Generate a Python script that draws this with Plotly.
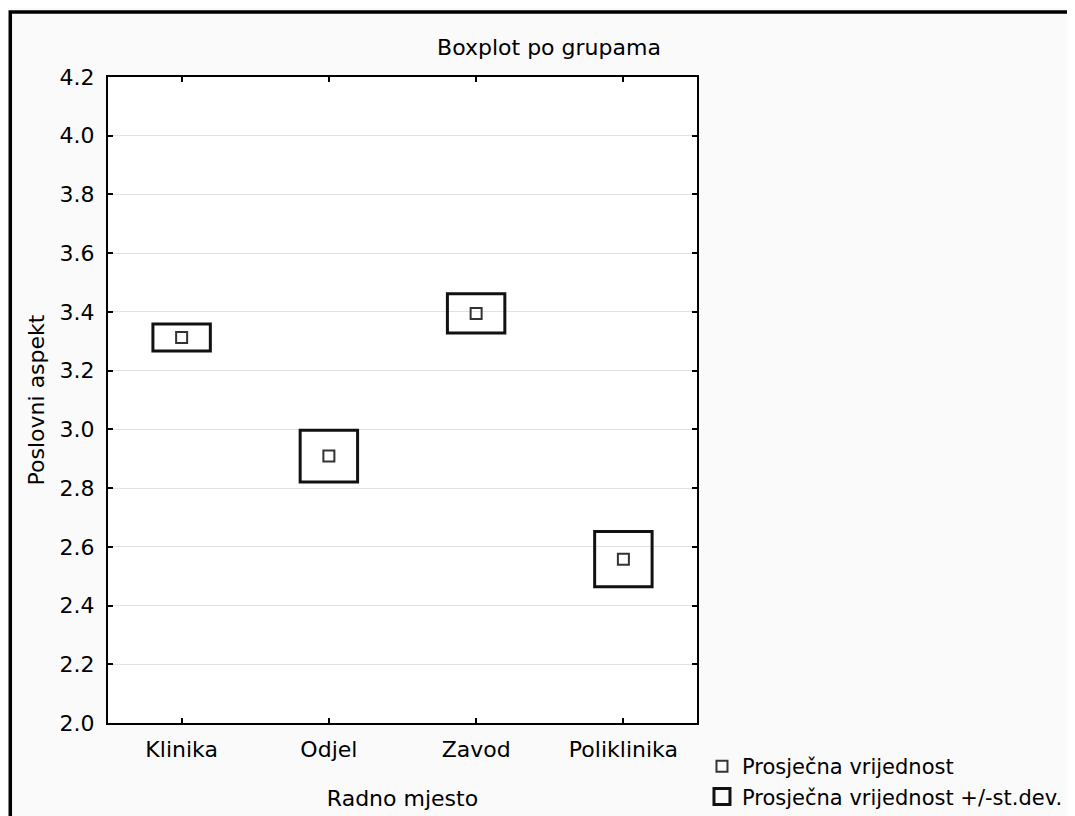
import plotly.graph_objects as go

groups = ["Klinika", "Odjel", "Zavod", "Poliklinika"]
means = [3.313, 2.909, 3.395, 2.558]
sds = [0.046, 0.088, 0.067, 0.094]
y_ticks = [2.0, 2.2, 2.4, 2.6, 2.8, 3.0, 3.2, 3.4, 3.6, 3.8, 4.0, 4.2]

FONT = "DejaVu Sans"
FS = 22
half_w = 0.195

# mean +/- sd rectangles, one closed path per group (first edge repeated so corners join)
box_x, box_y = [], []
for i, (m, s) in enumerate(zip(means, sds)):
    box_x += [i - half_w, i + half_w, i + half_w, i - half_w, i - half_w, i + half_w, None]
    box_y += [m - s, m - s, m + s, m + s, m - s, m - s, None]

fig = go.Figure()
fig.add_scatter(
    x=box_x, y=box_y, mode="lines",
    line=dict(color="#111111", width=3),
    showlegend=False, hoverinfo="skip",
)
fig.add_scatter(
    x=list(range(len(groups))), y=means, mode="markers",
    name="Prosječna vrijednost",
    marker=dict(symbol="square-open", size=11, color="#333333",
                line=dict(width=2, color="#333333")),
)
# legend entry for the sd boxes
fig.add_scatter(
    x=[None], y=[None], mode="markers",
    name="Prosječna vrijednost +/-st.dev.",
    marker=dict(symbol="square-open", size=16, color="#111111",
                line=dict(width=3, color="#111111")),
)

fig.update_layout(
    width=1067, height=808,
    margin=dict(l=100, r=378, t=69, b=93),
    paper_bgcolor="#fafafa",
    plot_bgcolor="white",
    font=dict(family=FONT, size=FS, color="black"),
    title=dict(text="Boxplot po grupama", x=0.7487, xref="paper", xanchor="center",
               y=0.9517, yref="container", yanchor="middle",
               font=dict(family=FONT, size=FS, color="black")),
    legend=dict(x=0.6504, xref="container", xanchor="left",
                y=0.0866, yref="container", yanchor="top",
                bgcolor="rgba(0,0,0,0)", font=dict(size=21),
                tracegroupgap=0),
    shapes=[dict(type="rect", xref="paper", yref="paper",
                 x0=-0.1659, x1=2.0, y0=-0.5, y1=1.1006,
                 line=dict(color="black", width=3.5),
                 layer="below")],
)
fig.update_xaxes(
    range=[-0.5, len(groups) - 0.5],
    tickvals=list(range(len(groups))), ticktext=groups,
    tickfont=dict(size=FS),
    showgrid=False, zeroline=False, automargin=False,
    showline=True, linecolor="black", linewidth=2, mirror="ticks",
    ticks="inside", ticklen=5, tickwidth=2, tickcolor="black",
    ticklabelstandoff=6,
    title=dict(text="Radno mjesto", standoff=29, font=dict(size=FS)),
)
fig.update_yaxes(
    range=[2.0, 4.2],
    tickvals=y_ticks, ticktext=[f"{v:.1f}" for v in y_ticks],
    tickfont=dict(size=FS),
    showgrid=True, gridcolor="#e2e2e2", gridwidth=1, zeroline=False,
    automargin=False,
    showline=True, linecolor="black", linewidth=2, mirror="ticks",
    ticks="inside", ticklen=5, tickwidth=2, tickcolor="black",
    ticklabelstandoff=7,
    title=dict(text="Poslovni aspekt", standoff=9, font=dict(size=FS)),
)

fig.write_html("out.html")
